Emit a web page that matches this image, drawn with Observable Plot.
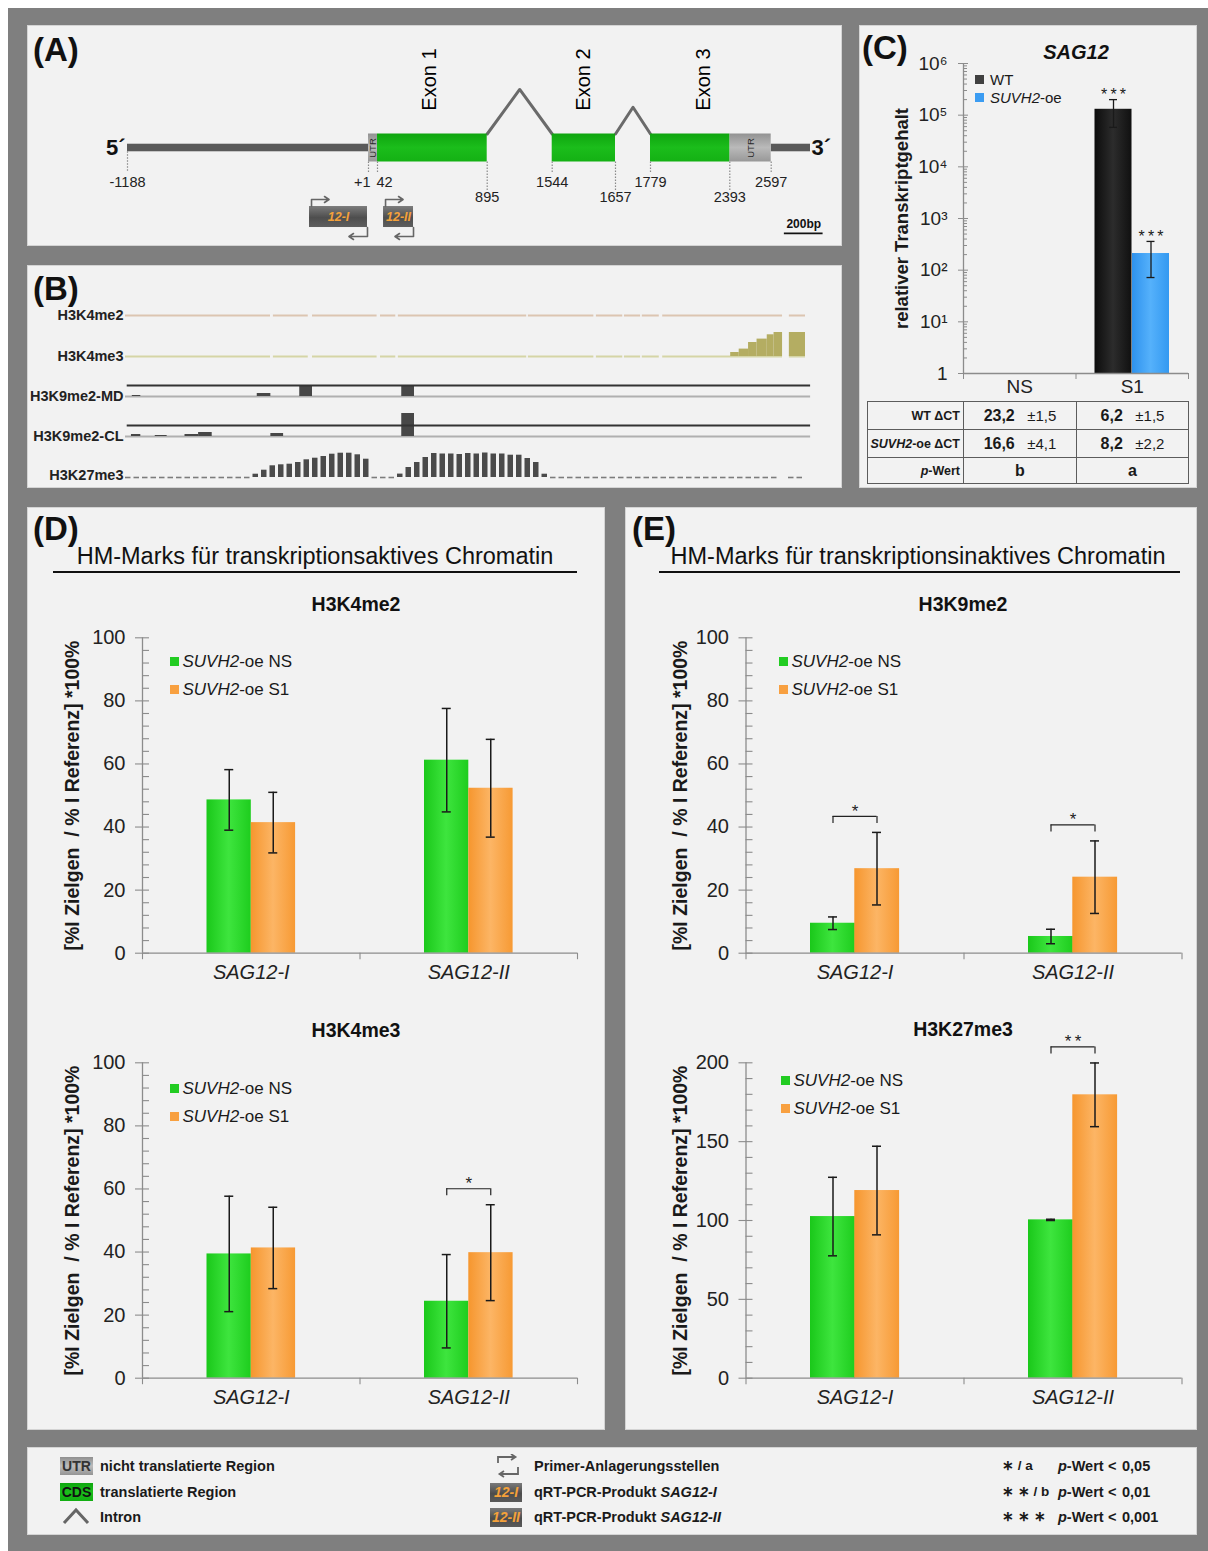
<!DOCTYPE html>
<html lang="de">
<head>
<meta charset="utf-8">
<title>SAG12 – Genmodell, Histonmodifikationen und Transkriptgehalt</title>
<script src="https://cdn.jsdelivr.net/npm/d3@7"></script>
<script src="https://cdn.jsdelivr.net/npm/@observablehq/plot@0.6"></script>
<style>
html, body { margin: 0; padding: 0; background: #ffffff; }
#fig { position: relative; width: 1208px; height: 1551px; overflow: hidden; font-family: Arial, "Liberation Sans", Helvetica, sans-serif; color: #1a1a1a; }
.t { position: absolute; white-space: nowrap; line-height: 1; }
#fig table td { border: 1.5px solid #5c5c5c; padding: 0; }
</style>
</head>
<body>
<div id="fig"></div>
<script>
// ====================== DATA ======================
// (A) SAG12 gene model, bp relative to transcription start (+1)
const geneStart = -1188;
const geneEnd = 2800;
const exonNames = ["Exon 1", "Exon 2", "Exon 3"];
const exonStarts = [1, 1544, 1779];
const exonEnds = [895, 1657, 2597];
const cdsStart = 42;
const cdsEnd = 2393;
const coordinateTicks = [-1188, 1, 42, 895, 1544, 1657, 1779, 2393, 2597];
const coordinateLabels = ["-1188", "+1", "42", "895", "1544", "1657", "1779", "2393", "2597"];
const primerNames = ["12-I", "12-II"];
const primerStarts = [-290, 89];
const primerEnds = [-4, 322];
const scaleBarBp = 200;

// (B) ChIP tracks (genomic window, 50-bp bins)
const trackNames = ["H3K4me2", "H3K4me3", "H3K9me2-MD", "H3K9me2-CL", "H3K27me3"];
const windowStart = -1200;
const windowEnd = 2800;
const binSize = 50;
const coverageGaps = [[-347, -330], [-125, -100], [280, 300], [390, 405], [1160, 1170], [1555, 1570], [1725, 1735], [1830, 1840], [1940, 1960], [2665, 2705]];
const h3k4me3Signal = [[2360, 2410, 4], [2410, 2465, 7.4], [2465, 2515, 14], [2515, 2575, 17.4], [2575, 2615, 21.7], [2615, 2665, 24], [2705, 2800, 24]];
const h3k9me2MDSignal = [[-1160, -1110, 1], [-425, -345, 3], [-175, -100, 11], [425, 500, 11]];
const h3k9me2CLSignal = [[-1165, -1110, 2], [-1025, -955, 1], [-850, -770, 2], [-770, -690, 4], [-345, -270, 3], [425, 500, 23]];
const h3k27me3Signal = [
  0, 0, 0, 0, 0, 0, 0, 0, 0, 0, 0, 0, 0, 0, 0,
  3.3, 7.3, 11.7, 12.7, 13.3, 15, 17.7, 19.3, 21, 23.3, 24.3, 24.3, 22.7, 18.3,
  0, 0, 0,
  3.4, 10, 15, 20, 24, 23.5, 23.5, 23, 24, 23.5, 24.5, 23.5, 23.5, 22.3, 22.3, 19, 15, 3.3,
  0, 0, 0, 0, 0, 0, 0, 0, 0, 0, 0, 0, 0, 0, 0, 0, 0, 0, 0, 0, 0, 0, 0, 0, 0, 0, 0,
  null, 0, 0
];

// (C) SAG12 relative transcript level (log scale)
const stagesC = ["NS", "S1"];
const wtLevel = [1, 130000];
const wtLow = [null, 58000];
const wtHigh = [null, 200000];
const wtSig = [null, "***"];
const suvLevel = [1, 210];
const suvLow = [null, 72];
const suvHigh = [null, 360];
const suvSig = [null, "***"];
const cDecades = [1, 10, 100, 1000, 10000, 100000, 1000000];
const cTickLabels = ["1", "10¹", "10²", "10³", "10⁴", "10⁵", "10⁶"];
const dctWT = [23.2, 6.2];
const dctWTsd = [1.5, 1.5];
const dctSUV = [16.6, 8.2];
const dctSUVsd = [4.1, 2.2];
const pLetters = ["b", "a"];

// (D)/(E) ChIP-qPCR
const primerProducts = ["SAG12-I", "SAG12-II"];
const seriesNames = ["NS", "S1"];
const ticks100 = [0, 20, 40, 60, 80, 100];
const ticks200 = [0, 50, 100, 150, 200];
const h3k4me2NS = [48.6, 61.2], h3k4me2NSsd = [9.6, 16.4];
const h3k4me2S1 = [41.4, 52.3], h3k4me2S1sd = [9.6, 15.5];
const h3k4me2Sig = [null, null];
const h3k4me3NS = [39.4, 24.4], h3k4me3NSsd = [18.3, 14.8];
const h3k4me3S1 = [41.3, 39.8], h3k4me3S1sd = [12.9, 15.2];
const h3k4me3Sig = [null, "*"];
const h3k9me2NS = [9.5, 5.3], h3k9me2NSsd = [2.0, 2.3];
const h3k9me2S1 = [26.8, 24.1], h3k9me2S1sd = [11.5, 11.5];
const h3k9me2Sig = ["*", "*"];
const h3k27me3NS = [102.5, 100.4], h3k27me3NSsd = [24.9, 0.4];
const h3k27me3S1 = [119.0, 179.7], h3k27me3S1sd = [28.1, 20.2];
const h3k27me3Sig = [null, "**"];

// ====================== HELPERS ======================
const FONT = "Arial, 'Liberation Sans', Helvetica, sans-serif";
const fig = document.getElementById("fig");
const baseStyle = {background: "transparent", fontFamily: FONT, color: "#222", overflow: "visible"};

function add(node, left, top) {
  node.style.position = "absolute";
  node.style.left = left + "px";
  node.style.top = top + "px";
  fig.appendChild(node);
  return node;
}
function box(left, top, w, h, css) {
  const d = document.createElement("div");
  d.style.cssText = `position:absolute;left:${left}px;top:${top}px;width:${w}px;height:${h}px;box-sizing:border-box;${css || ""}`;
  fig.appendChild(d);
  return d;
}
function label(x, cy, html, o = {}) {
  const size = o.size || 14;
  const d = document.createElement("div");
  d.className = "t";
  d.innerHTML = html;
  const tx = o.anchor === "middle" ? "-50%" : o.anchor === "end" ? "-100%" : "0";
  d.style.left = x + "px";
  d.style.top = (cy - size / 2) + "px";
  d.style.fontSize = size + "px";
  d.style.fontWeight = o.weight || "normal";
  d.style.fontStyle = o.italic ? "italic" : "normal";
  d.style.color = o.color || "#1a1a1a";
  d.style.transform = `translateX(${tx})`;
  fig.appendChild(d);
  return d;
}

// gradients shared by all plots
const defs = document.createElementNS("http://www.w3.org/2000/svg", "svg");
defs.setAttribute("width", "0");
defs.setAttribute("height", "0");
defs.style.position = "absolute";
defs.innerHTML = `<defs>
<linearGradient id="gGreen" x1="0" x2="1" y1="0" y2="0"><stop offset="0" stop-color="#1ac81a"/><stop offset="0.5" stop-color="#3ee53e"/><stop offset="1" stop-color="#1ecd1e"/></linearGradient>
<linearGradient id="gOrange" x1="0" x2="1" y1="0" y2="0"><stop offset="0" stop-color="#f6962e"/><stop offset="0.5" stop-color="#fcb565"/><stop offset="1" stop-color="#f79a34"/></linearGradient>
<linearGradient id="gBlack" x1="0" x2="1" y1="0" y2="0"><stop offset="0" stop-color="#0c0c0c"/><stop offset="0.5" stop-color="#2c2c2c"/><stop offset="1" stop-color="#101010"/></linearGradient>
<linearGradient id="gBlue" x1="0" x2="1" y1="0" y2="0"><stop offset="0" stop-color="#2e92ee"/><stop offset="0.5" stop-color="#55b1fb"/><stop offset="1" stop-color="#3399f1"/></linearGradient>
<linearGradient id="gCDS" x1="0" x2="0" y1="0" y2="1"><stop offset="0" stop-color="#0fa50f"/><stop offset="0.5" stop-color="#1bbd1b"/><stop offset="1" stop-color="#14b114"/></linearGradient>
<linearGradient id="gUTR" x1="0" x2="0" y1="0" y2="1"><stop offset="0" stop-color="#929292"/><stop offset="0.5" stop-color="#bababa"/><stop offset="1" stop-color="#989898"/></linearGradient>
<linearGradient id="gPrimer" x1="0" x2="0" y1="0" y2="1"><stop offset="0" stop-color="#7c7c7c"/><stop offset="0.55" stop-color="#4e4e4e"/><stop offset="1" stop-color="#5e5e5e"/></linearGradient>
</defs>`;
fig.appendChild(defs);

// ====================== BACKGROUND / PANELS ======================
box(8, 8, 1200, 1543, "background:#7f7f7f;");
const panelCss = "background:#f2f2f2;border:1px solid #d4d4d4;";
box(27, 25, 815, 221, panelCss);     // A
box(27, 265, 815, 223, panelCss);    // B
box(859, 25, 338, 463, panelCss);    // C
box(27, 507, 578, 923, panelCss);    // D
box(625, 507, 572, 923, panelCss);   // E
box(27, 1447, 1170, 88, panelCss);   // legend

label(33, 49, "(A)", {size: 33, weight: "bold", color: "#111"});
label(33, 288, "(B)", {size: 33, weight: "bold", color: "#111"});
label(862, 47, "(C)", {size: 33, weight: "bold", color: "#111"});
label(33, 528, "(D)", {size: 33, weight: "bold", color: "#111"});
label(632, 528, "(E)", {size: 33, weight: "bold", color: "#111"});

// ====================== (A) GENE MODEL ======================
{
  const exonRows = exonNames.map((n, i) => ({name: n, start: exonStarts[i], end: exonEnds[i]}));
  // the drawing is schematic (not to scale): piecewise-linear bp -> drawing position
  const aBreaks = [geneStart, exonStarts[0], cdsStart, exonEnds[0], exonStarts[1], exonEnds[1], exonStarts[2], cdsEnd, exonEnds[2], geneEnd];
  const aPixels = [100, 341, 350, 459.7, 524.7, 588, 623, 702.3, 743.7, 783];
  const schematic = d3.scaleLinear().domain(aBreaks).range(aPixels);
  const flanks = [[geneStart, exonStarts[0]], [exonEnds[exonEnds.length - 1], geneEnd]];
  const cdsParts = exonRows.map(e => [Math.max(e.start, cdsStart), Math.min(e.end, cdsEnd)]).filter(d => d[1] > d[0]);
  const utrParts = [];
  exonRows.forEach(e => {
    if (e.start < cdsStart) utrParts.push([e.start, Math.min(e.end, cdsStart)]);
    if (e.end > cdsEnd) utrParts.push([Math.max(e.start, cdsEnd), e.end]);
  });
  const apex = [4.18, 2.91];
  const intronPts = [];
  for (let i = 0; i < exonRows.length - 1; i++) {
    const a = exonRows[i].end, b = exonRows[i + 1].start;
    intronPts.push({k: i, x: a, y: 1}, {k: i, x: (a + b) / 2, y: apex[i]}, {k: i, x: b, y: 1});
  }
  const lowerRow = new Set([895, 1657, 2393]);
  const coordRows = coordinateTicks.map((p, i) => ({pos: p, text: coordinateLabels[i], lower: lowerRow.has(p), base: p === geneStart ? -0.27 : -1}));
  const primerRows = primerNames.map((n, i) => ({name: n, start: primerStarts[i], end: primerEnds[i]}));
  const fwdArrow = {draw(ctx) { ctx.moveTo(0, 0); ctx.lineTo(0, -7); ctx.lineTo(17, -7); ctx.moveTo(13, -10); ctx.lineTo(17.5, -7); ctx.lineTo(13, -4); }};
  const revArrow = {draw(ctx) { ctx.moveTo(0, 0); ctx.lineTo(0, 9); ctx.lineTo(-18, 9); ctx.moveTo(-14, 6); ctx.lineTo(-18.5, 9); ctx.lineTo(-14, 12); }};
  const barStart = 2665;

  const A = Plot.plot({
    width: 815, height: 221, margin: 0,
    x: {transform: schematic, domain: [0, 815], range: [0, 815], axis: null},
    y: {domain: [-1, 1], range: [136.5, 108.5], axis: null},
    style: baseStyle,
    marks: [
      Plot.rect(flanks, {x1: d => d[0], x2: d => d[1], y1: () => -0.27, y2: () => 0.27, fill: "#5a5a5a"}),
      Plot.line(intronPts, {x: "x", y: "y", z: "k", stroke: "#6a6a6a", strokeWidth: 3}),
      Plot.rect(utrParts, {x1: d => d[0], x2: d => d[1], y1: () => -1, y2: () => 1, fill: "url(#gUTR)"}),
      Plot.rect(cdsParts, {x1: d => d[0], x2: d => d[1], y1: () => -1, y2: () => 1, fill: "url(#gCDS)"}),
      Plot.text(utrParts, {x: d => (d[0] + d[1]) / 2, y: () => 0, text: () => "UTR", rotate: -90, fontSize: 9.5, fill: "#2a2a2a"}),
      Plot.text(exonRows, {x: d => (d.start + d.end) / 2, y: () => 4.89, text: "name", rotate: -90, textAnchor: "middle", fontSize: 20, fill: "#000"}),
      Plot.ruleX(coordRows, {x: "pos", y1: "base", y2: d => d.lower ? -3.1 : -1.75, stroke: "#8a8a8a", strokeWidth: 1.2, strokeDasharray: "1.5,1.5"}),
      Plot.text(coordRows.filter(d => d.text !== "+1" && d.text !== "42"), {x: "pos", y: d => d.lower ? -3.54 : -2.46, text: "text", fontSize: 14.5, fill: "#222"}),
      Plot.text(coordRows.filter(d => d.text === "+1"), {x: "pos", y: () => -2.46, text: "text", textAnchor: "end", dx: 2, fontSize: 14.5, fill: "#222"}),
      Plot.text(coordRows.filter(d => d.text === "42"), {x: "pos", y: () => -2.46, text: "text", textAnchor: "start", dx: -1, fontSize: 14.5, fill: "#222"}),
      Plot.text(["5´"], {x: () => geneStart, y: () => 0, textAnchor: "end", dx: -2, fontSize: 22, fontWeight: "bold", fill: "#111"}),
      Plot.text(["3´"], {x: () => geneEnd, y: () => 0, textAnchor: "start", dx: 1, fontSize: 22, fontWeight: "bold", fill: "#111"}),
      Plot.rect(primerRows, {x1: "start", x2: "end", y1: () => -4.18, y2: () => -5.68, fill: "url(#gPrimer)"}),
      Plot.text(primerRows, {x: d => (d.start + d.end) / 2, y: () => -4.93, text: "name", fill: "#f4a13a", fontWeight: "bold", fontStyle: "italic", fontSize: 12.5}),
      Plot.vector(primerRows, {x: "start", y: () => -4.18, length: 10, rotate: 0, anchor: "start", shape: fwdArrow, dx: 2, stroke: "#666", strokeWidth: 1.6}),
      Plot.vector(primerRows, {x: "end", y: () => -5.68, length: 10, rotate: 0, anchor: "start", shape: revArrow, stroke: "#666", strokeWidth: 1.6}),
      Plot.ruleY([scaleBarBp], {y: () => -6.1, x1: () => barStart, x2: d => barStart + d, stroke: "#111", strokeWidth: 1.6}),
      Plot.text([scaleBarBp], {x: d => barStart + d / 2, y: () => -5.45, text: d => d + "bp", fontSize: 12, fontWeight: "bold", fill: "#111"})
    ]
  });
  add(A, 27, 25);
}

// ====================== (B) CHIP TRACKS ======================
{
  const covered = [];
  let s = windowStart;
  coverageGaps.forEach(g => { covered.push([s, g[0]]); s = g[1]; });
  covered.push([s, windowEnd]);
  const lineEnd = 2830;
  const ceiling = 11;
  const binRows = h3k27me3Signal.map((v, i) => ({start: windowStart + i * binSize, end: windowStart + (i + 1) * binSize, v}));

  function trackPlot(name, baseline, marks, labelDy = 0) {
    const p = Plot.plot({
      width: 815, height: 32, marginLeft: 98, marginRight: 37, marginTop: 4, marginBottom: 3,
      x: {domain: [windowStart, windowEnd], axis: null},
      y: {domain: [0, 25], axis: null},
      style: baseStyle,
      marks: [
        ...marks,
        Plot.text([name], {frameAnchor: "left", y: () => 0, dy: labelDy, textAnchor: "end", dx: -2, fontSize: 14.5, fontWeight: "bold", fill: "#222"})
      ]
    });
    add(p, 27, baseline - 29);
  }
  const seg = (data, fill) => Plot.rect(data, {x1: d => d[0], x2: d => d[1], y1: () => 0, y2: d => d[2], fill});

  trackPlot(trackNames[0], 315, [
    Plot.ruleY(covered, {y: () => 0, x1: d => d[0], x2: d => d[1], stroke: "#dcc5b1", strokeWidth: 2})
  ]);
  trackPlot(trackNames[1], 355.7, [
    Plot.ruleY(covered, {y: () => 0, x1: d => d[0], x2: d => d[1], stroke: "#d5d5a6", strokeWidth: 2}),
    seg(h3k4me3Signal, "#b4ad62")
  ]);
  trackPlot(trackNames[2], 395.7, [
    Plot.ruleY([0], {x1: () => windowStart, x2: () => lineEnd, stroke: "#b0b0b0", strokeWidth: 2}),
    seg(h3k9me2MDSignal, "#474747"),
    Plot.ruleY([ceiling], {x1: () => windowStart + 10, x2: () => lineEnd, stroke: "#333", strokeWidth: 2.2})
  ]);
  trackPlot(trackNames[3], 436, [
    Plot.ruleY([0], {x1: () => windowStart, x2: () => lineEnd, stroke: "#b0b0b0", strokeWidth: 2}),
    seg(h3k9me2CLSignal, "#474747"),
    Plot.ruleY([ceiling], {x1: () => windowStart + 10, x2: () => lineEnd, stroke: "#333", strokeWidth: 2.2})
  ]);
  trackPlot(trackNames[4], 476.7, [
    Plot.ruleY(binRows.filter(d => d.v === 0), {y: () => 0, x1: "start", x2: "end", insetRight: 3, stroke: "#7c7c7c", strokeWidth: 1.6}),
    Plot.rect(binRows.filter(d => d.v > 0), {x1: "start", x2: "end", y1: () => 0, y2: "v", insetRight: 3, fill: "#4a4a4a"})
  ], -2);
}

// ====================== (C) TRANSCRIPT LEVEL ======================
{
  const rows = [];
  stagesC.forEach((s, i) => {
    rows.push({i, g: "WT", v: wtLevel[i], lo: wtLow[i], hi: wtHigh[i], sig: wtSig[i]});
    rows.push({i, g: "SUVH2-oe", v: suvLevel[i], lo: suvLow[i], hi: suvHigh[i], sig: suvSig[i]});
  });
  const WT = rows.filter(d => d.g === "WT"), SU = rows.filter(d => d.g !== "WT");
  const axisCol = "#8c8c8c";
  const minorC = d3.range(0, 6).flatMap(k => d3.range(2, 10).map(m => m * Math.pow(10, k)));
  const err = (data, dx) => {
    const e = data.filter(d => d.lo != null);
    return [
      Plot.ruleX(e, {x: d => d.i + 0.5, y1: "lo", y2: "hi", dx, stroke: "#1a1a1a", strokeWidth: 1.3}),
      Plot.ruleY(e, {y: "lo", x1: d => d.i + 0.5, x2: d => d.i + 0.5, dx, insetLeft: -4, insetRight: -4, stroke: "#1a1a1a", strokeWidth: 1.3}),
      Plot.ruleY(e, {y: "hi", x1: d => d.i + 0.5, x2: d => d.i + 0.5, dx, insetLeft: -4, insetRight: -4, stroke: "#1a1a1a", strokeWidth: 1.3}),
      Plot.text(e.filter(d => d.sig), {x: d => d.i + 0.5, y: "hi", dx, dy: -5, text: d => d.sig.split("").join("\u2009"), fontSize: 16, fill: "#1a1a1a"})
    ];
  };
  const C = Plot.plot({
    width: 337, height: 370, marginLeft: 103, marginRight: 9, marginTop: 23, marginBottom: 37,
    x: {domain: [0, stagesC.length]},
    y: {type: "log", domain: [1, 1e6]},
    style: baseStyle,
    marks: [
      Plot.rect(WT, {x1: "i", x2: d => d.i + 1, y1: () => 1, y2: "v", fill: "url(#gBlack)", insetLeft: 19, insetRight: 56.5}),
      Plot.rect(SU, {x1: "i", x2: d => d.i + 1, y1: () => 1, y2: "v", fill: "url(#gBlue)", insetLeft: 56.5, insetRight: 19}),
      ...err(WT, -18.75),
      ...err(SU, 18.75),
      Plot.ruleX([0], {stroke: axisCol, strokeWidth: 1.3}),
      Plot.ruleY([1], {stroke: axisCol, strokeWidth: 1.3}),
      Plot.ruleY(cDecades, {x1: () => 0, x2: () => 0, insetLeft: -5, insetRight: -5, stroke: axisCol}),
      Plot.ruleY(minorC, {x1: () => 0, x2: () => 0, insetRight: -4, stroke: axisCol}),
      Plot.ruleX(d3.range(stagesC.length + 1), {x: d => d, y1: () => 1, y2: () => 1, insetBottom: -6, stroke: axisCol}),
      Plot.axisY({ticks: cDecades, tickFormat: d => cTickLabels[cDecades.indexOf(d)], tickSize: 0, tickPadding: 16, fontSize: 19, label: null}),
      Plot.axisX({ticks: stagesC.map((s, i) => i + 0.5), tickFormat: v => stagesC[Math.floor(v)], tickSize: 0, tickPadding: 6, fontSize: 19, label: null}),
      Plot.text(["relativer Transkriptgehalt"], {frameAnchor: "left", dx: -61, rotate: -90, textAnchor: "middle", fontSize: 18.5, fontWeight: "bold", fill: "#1a1a1a"})
    ]
  });
  add(C, 860, 40);

  label(1076, 52, "SAG12", {size: 20, weight: "bold", italic: true, anchor: "middle", color: "#111"});
  box(975, 75, 9, 9, "background:#404040;");
  label(990, 79, "WT", {size: 15});
  box(975, 93, 9, 9, "background:#3b9cf2;");
  label(990, 97.5, "<i>SUVH2</i>-oe", {size: 15});

  // ΔCT table
  const fmt = v => v.toFixed(1).replace(".", ",");
  const tRows = [
    {head: "WT ΔCT", cells: dctWT.map((v, i) => `<b style="font-size:16px">${fmt(v)}</b>&nbsp;&nbsp;&nbsp;±${fmt(dctWTsd[i])}`), h: 28},
    {head: "<i>SUVH2</i>-oe ΔCT", cells: dctSUV.map((v, i) => `<b style="font-size:16px">${fmt(v)}</b>&nbsp;&nbsp;&nbsp;±${fmt(dctSUVsd[i])}`), h: 28},
    {head: "<i>p</i>-Wert", cells: pLetters.map(l => `<b style="font-size:16px">${l}</b>`), h: 26}
  ];
  const tbl = document.createElement("table");
  tbl.style.cssText = `position:absolute;left:867px;top:401px;width:321px;border-collapse:collapse;table-layout:fixed;font-family:${FONT};color:#1a1a1a;`;
  let html = `<colgroup><col style="width:96px"><col style="width:113px"><col style="width:112px"></colgroup>`;
  tRows.forEach(r => {
    html += `<tr style="height:${r.h}px"><td style="text-align:right;padding-right:3px;font-weight:bold;font-size:12.5px;white-space:nowrap">${r.head}</td>`;
    r.cells.forEach(c => { html += `<td style="text-align:center;font-size:15px;white-space:nowrap">${c}</td>`; });
    html += `</tr>`;
  });
  tbl.innerHTML = html;
  fig.appendChild(tbl);
}

// ====================== (D)/(E) ChIP-qPCR ======================
const yLabelChIP = "[%I Zielgen\u00a0\u00a0/ % I Referenz] *100%";
function groupChart(o) {
  const rows = [];
  primerProducts.forEach((c, i) => {
    rows.push({i, s: seriesNames[0], m: o.ns[i], sd: o.nsSd[i]});
    rows.push({i, s: seriesNames[1], m: o.s1[i], sd: o.s1Sd[i]});
  });
  const NS = rows.filter(d => d.s === seriesNames[0]), S1 = rows.filter(d => d.s === seriesNames[1]);
  const sigRows = primerProducts.map((c, i) => ({i, label: o.sig[i], top: Math.max(o.ns[i] + o.nsSd[i], o.s1[i] + o.s1Sd[i])})).filter(d => d.label);
  const yMax = o.ticks[o.ticks.length - 1];
  const step = (o.ticks[1] - o.ticks[0]) / 5;
  const minor = d3.range(0, yMax + 1e-9, step).filter(v => !o.ticks.some(t => Math.abs(t - v) < 1e-6));
  const axisCol = "#8c8c8c";
  const errMarks = (data, dx) => [
    Plot.ruleX(data, {x: d => d.i + 0.5, y1: d => d.m - d.sd, y2: d => d.m + d.sd, dx, stroke: "#1a1a1a", strokeWidth: 1.5}),
    Plot.ruleY(data, {y: d => d.m - d.sd, x1: d => d.i + 0.5, x2: d => d.i + 0.5, dx, insetLeft: -4.5, insetRight: -4.5, stroke: "#1a1a1a", strokeWidth: 1.5}),
    Plot.ruleY(data, {y: d => d.m + d.sd, x1: d => d.i + 0.5, x2: d => d.i + 0.5, dx, insetLeft: -4.5, insetRight: -4.5, stroke: "#1a1a1a", strokeWidth: 1.5})
  ];
  const p = Plot.plot({
    width: o.width, height: 375, marginLeft: o.ml, marginRight: o.mr, marginTop: 17.3, marginBottom: 42.3,
    x: {domain: [0, primerProducts.length]},
    y: {domain: [0, yMax]},
    style: baseStyle,
    marks: [
      Plot.rect(NS, {x1: "i", x2: d => d.i + 1, y1: () => 0, y2: "m", fill: "url(#gGreen)", insetLeft: 64.5, insetRight: 108.7}),
      Plot.rect(S1, {x1: "i", x2: d => d.i + 1, y1: () => 0, y2: "m", fill: "url(#gOrange)", insetLeft: 108.8, insetRight: 64.4}),
      ...errMarks(NS, -22),
      ...errMarks(S1, 22),
      Plot.ruleX([0], {stroke: axisCol, strokeWidth: 1.3}),
      Plot.ruleY([0], {stroke: axisCol, strokeWidth: 1.3}),
      Plot.ruleY(o.ticks, {x1: () => 0, x2: () => 0, insetLeft: -7, insetRight: -7, stroke: axisCol, strokeWidth: 1.1}),
      Plot.ruleY(minor, {x1: () => 0, x2: () => 0, insetRight: -7, stroke: axisCol, strokeWidth: 1.1}),
      Plot.ruleX(d3.range(primerProducts.length + 1), {x: d => d, y1: () => 0, y2: () => 0, insetBottom: -6.5, stroke: axisCol, strokeWidth: 1.1}),
      Plot.axisY({ticks: o.ticks, tickSize: 0, tickPadding: 17, fontSize: 20, label: null}),
      Plot.axisX({ticks: primerProducts.map((c, i) => i + 0.5), tickFormat: v => primerProducts[Math.floor(v)], tickSize: 0, tickPadding: 12, fontSize: 20, fontStyle: "italic", label: null}),
      Plot.text([yLabelChIP], {frameAnchor: "left", dx: o.ylabDx, rotate: -90, textAnchor: "middle", fontSize: 19.5, fontWeight: "bold", fill: "#1a1a1a"}),
      Plot.ruleY(sigRows, {y: "top", x1: d => d.i + 0.5, x2: d => d.i + 0.5, dy: -16, insetLeft: -22, insetRight: -22, stroke: "#222", strokeWidth: 1.2}),
      Plot.ruleX(sigRows, {x: d => d.i + 0.5, y1: "top", y2: "top", dx: -22, dy: -16, insetBottom: -7, stroke: "#222", strokeWidth: 1.2}),
      Plot.ruleX(sigRows, {x: d => d.i + 0.5, y1: "top", y2: "top", dx: 22, dy: -16, insetBottom: -7, stroke: "#222", strokeWidth: 1.2}),
      Plot.text(sigRows, {x: d => d.i + 0.5, y: "top", dy: -21, text: d => d.label.split("").join("\u2009"), fontSize: 17, fill: "#222"})
    ]
  });
  add(p, o.left, o.top);
  // legend
  const lx = o.legX, ly = o.legY;
  box(lx, ly - 4.5, 9, 9, "background:#22cc22;");
  label(lx + 12.5, ly, `<i>SUVH2</i>-oe ${seriesNames[0]}`, {size: 17});
  box(lx, ly + 23.5, 9, 9, "background:#f8a040;");
  label(lx + 12.5, ly + 28, `<i>SUVH2</i>-oe ${seriesNames[1]}`, {size: 17});
  label(o.titleX, o.titleY, o.title, {size: 19.5, weight: "bold", anchor: "middle", color: "#111"});
}

// panel titles
label(315, 557, "HM-Marks für transkriptionsaktives Chromatin", {size: 23.5, anchor: "middle", color: "#111"});
box(53, 570.5, 524, 2.5, "background:#111;");
label(918, 557, "HM-Marks für transkriptionsinaktives Chromatin", {size: 23.5, anchor: "middle", color: "#111"});
box(659, 570.5, 521, 2.5, "background:#111;");

groupChart({left: 27, top: 620, width: 578, ml: 115, mr: 28, ylabDx: -70, ticks: ticks100,
  ns: h3k4me2NS, nsSd: h3k4me2NSsd, s1: h3k4me2S1, s1Sd: h3k4me2S1sd, sig: h3k4me2Sig,
  legX: 170, legY: 661.5, title: "H3K4me2", titleX: 356, titleY: 605});
groupChart({left: 27, top: 1045, width: 578, ml: 115, mr: 28, ylabDx: -70, ticks: ticks100,
  ns: h3k4me3NS, nsSd: h3k4me3NSsd, s1: h3k4me3S1, s1Sd: h3k4me3S1sd, sig: h3k4me3Sig,
  legX: 170, legY: 1088, title: "H3K4me3", titleX: 356, titleY: 1031});
groupChart({left: 625, top: 620, width: 572, ml: 120.5, mr: 15.5, ylabDx: -65.5, ticks: ticks100,
  ns: h3k9me2NS, nsSd: h3k9me2NSsd, s1: h3k9me2S1, s1Sd: h3k9me2S1sd, sig: h3k9me2Sig,
  legX: 779, legY: 661.5, title: "H3K9me2", titleX: 963, titleY: 605});
groupChart({left: 625, top: 1045, width: 572, ml: 120.5, mr: 15.5, ylabDx: -65.5, ticks: ticks200,
  ns: h3k27me3NS, nsSd: h3k27me3NSsd, s1: h3k27me3S1, s1Sd: h3k27me3S1sd, sig: h3k27me3Sig,
  legX: 781, legY: 1080, title: "H3K27me3", titleX: 963, titleY: 1030});

// ====================== LEGEND PANEL ======================
{
  const rowsY = [1466, 1492, 1517];
  const legendGene = ["nicht translatierte Region", "translatierte Region", "Intron"];
  const legendPrimer = ["Primer-Anlagerungsstellen", "qRT-PCR-Produkt <i>SAG12-I</i>", "qRT-PCR-Produkt <i>SAG12-II</i>"];
  const legendStars = ["∗ / a", "∗ ∗ / b", "∗ ∗ ∗"];
  const legendP = ["0,05", "0,01", "0,001"];
  const icon = (x, y, w, h, css, txt) => {
    const d = box(x, y, w, h, css + "display:flex;align-items:center;justify-content:center;font-weight:bold;font-size:14px;line-height:1;");
    d.innerHTML = txt;
    return d;
  };
  icon(60, rowsY[0] - 9, 33, 18, "background:linear-gradient(#8f8f8f,#bdbdbd 50%,#949494);color:#333;", "UTR");
  icon(60, rowsY[1] - 9, 33, 18, "background:linear-gradient(#0ea60e,#1cbf1c 50%,#12ae12);color:#111;", "CDS");
  const intr = document.createElementNS("http://www.w3.org/2000/svg", "svg");
  intr.setAttribute("width", "28"); intr.setAttribute("height", "18");
  intr.innerHTML = `<polyline points="2,16 14,3 26,16" fill="none" stroke="#666" stroke-width="3"/>`;
  add(intr, 62, rowsY[2] - 10);
  legendGene.forEach((t, i) => label(100, rowsY[i], t, {size: 14.5, weight: "bold"}));

  const arr = document.createElementNS("http://www.w3.org/2000/svg", "svg");
  arr.setAttribute("width", "26"); arr.setAttribute("height", "24");
  arr.innerHTML = `<path d="M3,9 V3 H20 M16,0 L20.5,3 L16,6 M23,13 V20 H5 M9,17 L4.5,20 L9,23" fill="none" stroke="#666" stroke-width="1.8"/>`;
  add(arr, 495, rowsY[0] - 12);
  icon(490, rowsY[1] - 9.5, 32, 19, "background:linear-gradient(#7a7a7a,#4c4c4c 55%,#5a5a5a);color:#f4a13a;font-style:italic;", "12-I");
  icon(490, rowsY[2] - 9.5, 32, 19, "background:linear-gradient(#7a7a7a,#4c4c4c 55%,#5a5a5a);color:#f4a13a;font-style:italic;", "12-II");
  legendPrimer.forEach((t, i) => label(534, rowsY[i], t, {size: 14.5, weight: "bold"}));

  legendStars.forEach((t, i) => {
    label(1002, rowsY[i], t, {size: 13.5, weight: "bold"});
    label(1058, rowsY[i], "<i>p</i>-Wert", {size: 14.5, weight: "bold"});
    label(1108, rowsY[i], "&lt;", {size: 14.5, weight: "bold"});
    label(1122, rowsY[i], legendP[i], {size: 14.5, weight: "bold"});
  });
}
</script>
</body>
</html>
